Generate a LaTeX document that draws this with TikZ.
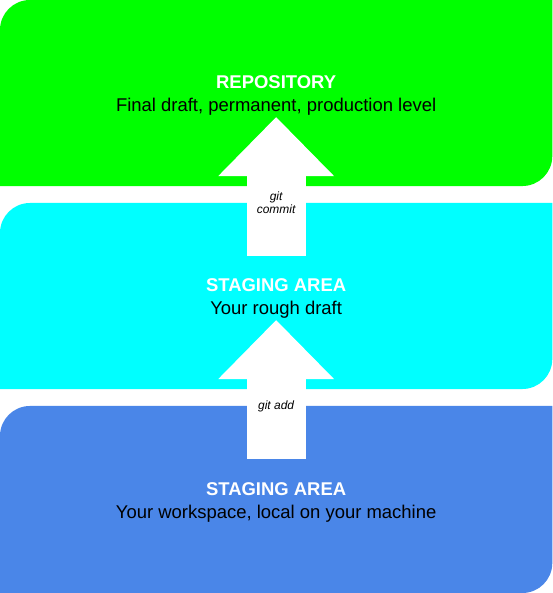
\documentclass[tikz,border=0pt]{standalone}
\usepackage{fontspec}
\setmainfont{Liberation Sans}
\usetikzlibrary{arrows.meta, positioning, backgrounds}
\definecolor{repogreen}{HTML}{00FF00}
\definecolor{stagecyan}{HTML}{00FFFF}
\definecolor{workblue}{HTML}{4A86E8}

\begin{document}
\begin{tikzpicture}[
    node distance=17pt,
    area/.style={
        rectangle, inner sep=0pt,
        minimum width=553pt, minimum height=186pt,
        align=center, text height=41.5pt,
        font=\fontsize{18.5}{23.3}\selectfont
    },
    bigarrow/.style={white, line width=59pt,
        -{Triangle[length=59pt, width=116pt, line width=0pt]}},
    cmd/.style={font=\fontsize{12}{13.4}\selectfont\itshape, align=center, inner sep=0pt}
]
% ── Areas, top to bottom ──
\node[area] (repo) at (0,0) {{\bfseries\color{white}REPOSITORY}\\Final draft, permanent, production level};
\node[area, below=of repo] (stage) {{\bfseries\color{white}STAGING AREA}\\Your rough draft};
\node[area, below=of stage, minimum height=187pt] (work) {{\bfseries\color{white}STAGING AREA}\\Your workspace, local on your machine};

% ── Backgrounds (round top left and bottom right only) ──
\begin{scope}[on background layer]
\foreach \b/\c in {repo/repogreen, stage/stagecyan, work/workblue}
    \fill[\c] (\b.south west) -- ([yshift=-30pt]\b.north west)
        arc[start angle=180, end angle=90, radius=30pt]
        -- (\b.north east) -- ([yshift=30pt]\b.south east)
        arc[start angle=0, end angle=-90, radius=30pt] -- cycle;
\end{scope}

% ── Arrows ──
\coordinate (commitfrom) at ([yshift=-53pt]stage.north);
\coordinate (committo) at ([yshift=69pt]repo.south);
\coordinate (addfrom) at ([yshift=-53pt]work.north);
\coordinate (addto) at ([yshift=69pt]stage.south);
\draw[bigarrow] (commitfrom) -- (committo);
\draw[bigarrow] (addfrom) -- (addto);

\node[cmd] (commitlbl) at (stage.north) {git\\commit};
\node[cmd] (addlbl) at (work.north) {git add};

\end{tikzpicture}
\end{document}
